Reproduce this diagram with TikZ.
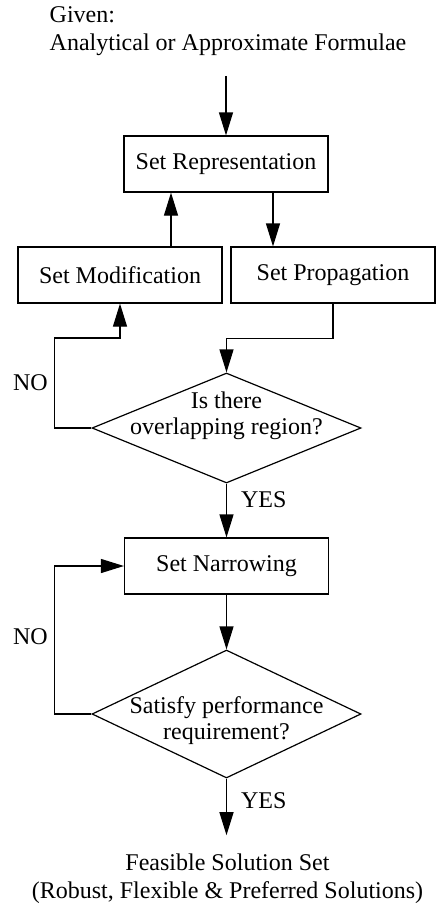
\documentclass[tikz,border=0pt]{standalone}
\usepackage{fontspec}
\setmainfont{Liberation Serif}
\usetikzlibrary{arrows.meta, positioning, shapes.geometric}
\tikzset{
  line/.style={-{Triangle[length=11.5pt,width=7pt]}, line width=0.6pt, draw=black},
  setbox/.style={
    rectangle,
    draw,
    line width=0.6pt,
    minimum width=102pt,
    minimum height=28pt,
    inner sep=0pt,
    font=\fontsize{12}{14}\selectfont
  },
  decision/.style={
    diamond,
    draw,
    line width=0.6pt,
    minimum width=134.5pt,
    inner sep=0pt
  },
  qtext/.style={align=center, inner sep=0pt, font=\fontsize{12}{13}\selectfont},
  plaintext/.style={inner sep=0pt, font=\fontsize{12}{14}\selectfont},
  answer/.style={inner sep=3pt, font=\fontsize{12}{14}\selectfont}
}

\begin{document}
\begin{tikzpicture}[x=0.5pt, y=-0.5pt]
\useasboundingbox (0,0) rectangle (436,906);

\node[plaintext, align=left] (given) at (228,31) {Given:\\Analytical or Approximate Formulae};
\node[setbox] (rep) at (226,164) {Set Representation};
\node[setbox] (mod) at (120,275) {Set Modification};
\node[setbox] (prop) at (333,275) {Set Propagation};

\node[decision, minimum height=55pt] (q1) at (226.5,428) {};
\node[qtext] (q1text) at ([yshift=6pt]q1.center) {Is there\\overlapping region?};

\node[setbox] (narr) at (226.5,566) {Set Narrowing};

\node[decision, minimum height=64pt] (q2) at (226.5,714) {};
\node[qtext] (q2text) at ([yshift=-3.5pt]q2.center) {Satisfy performance\\requirement?};

\node[plaintext, align=center] (feas) at (227.5,878.5) {Feasible Solution Set\\(Robust, Flexible \& Preferred Solutions)};

\draw[line, shorten <=10pt] (given.south -| rep.north) -- (rep.north);
\draw[line] ([xshift=23.5pt]rep.south) -- ([xshift=23.5pt]rep.south |- prop.north);
\draw[line] ([xshift=25.5pt]mod.north) -- ([xshift=25.5pt]mod.north |- rep.south);

\draw[line] (prop.south) -- ++(0,35) -| (q1.north);
\draw[line] (q1.west) -- ++(-37,0) -- node[answer, left] {NO} ++(0,-90) -| (mod.south);

\draw[line] (q1.south) -- node[answer, right, pos=0.3, xshift=4pt] {YES} (narr.north);
\draw[line] (narr) -- (q2);
\draw[line] (q2.west) -- ++(-37,0) |- node[answer, pos=0.26, left] {NO} (narr.west);
\draw[line, shorten >=9pt] (q2.south) -- node[answer, right, pos=0.3, xshift=4pt] {YES} (q2.south |- feas.north);

\end{tikzpicture}
\end{document}
